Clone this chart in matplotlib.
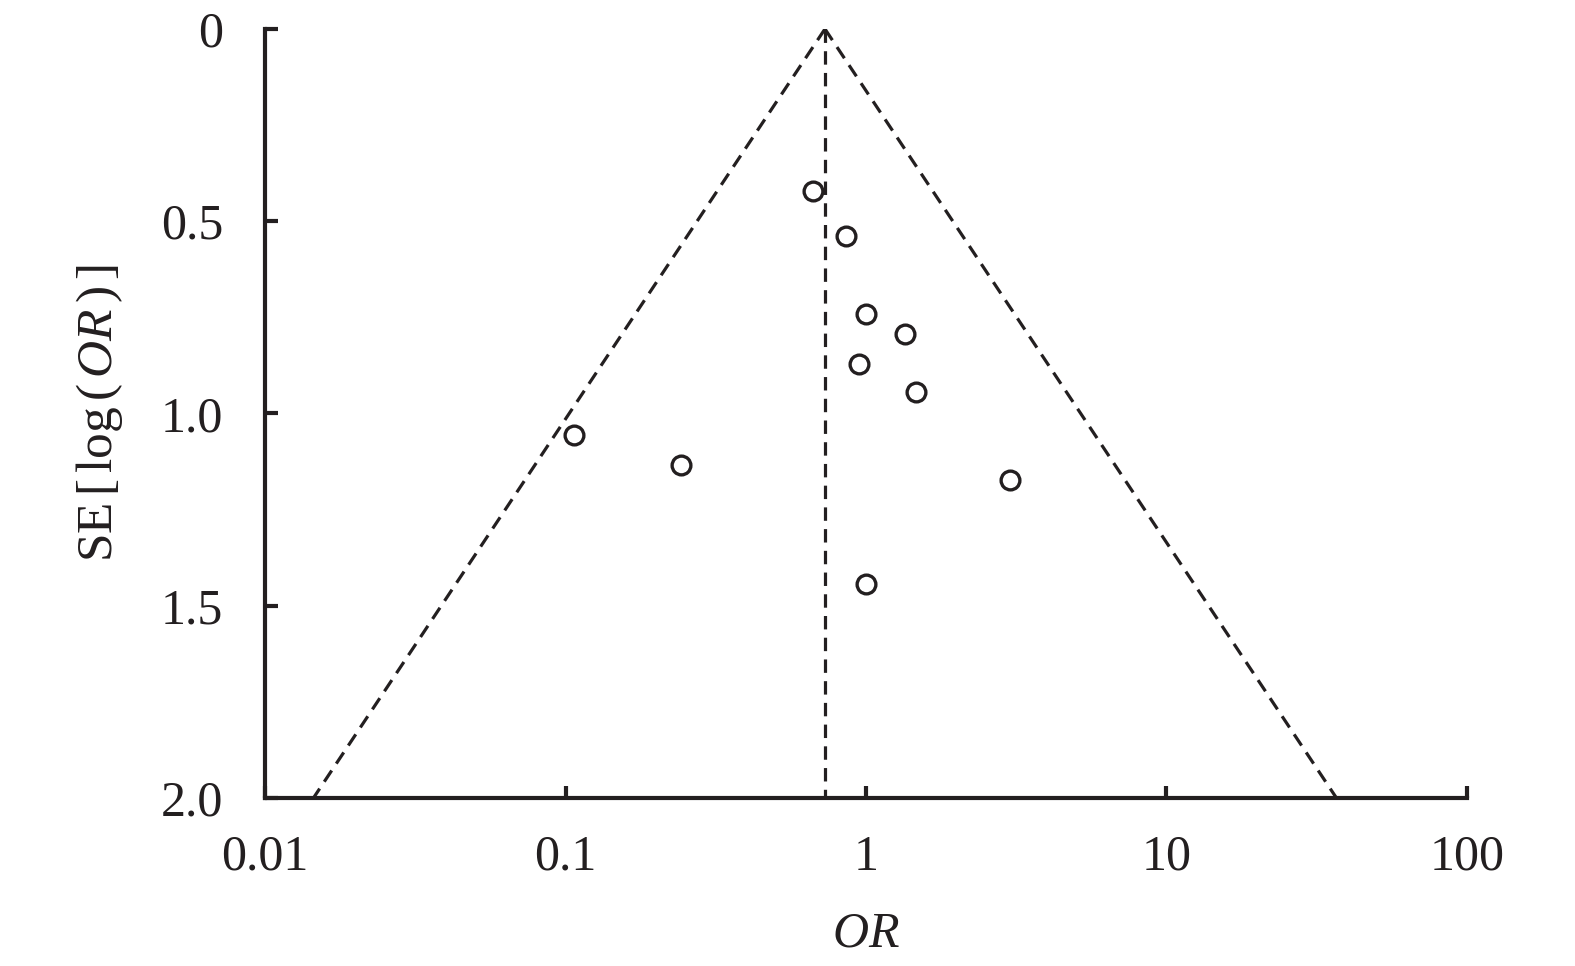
import numpy as np
import matplotlib
matplotlib.use("Agg")
import matplotlib.pyplot as plt

plt.rcParams['font.family'] = ['Liberation Serif', 'DejaVu Serif']
plt.rcParams['mathtext.fontset'] = 'custom'
plt.rcParams['mathtext.rm'] = 'Liberation Serif'
plt.rcParams['mathtext.it'] = 'Liberation Serif:italic'

# Study estimates
odds_ratios = [0.667, 0.858, 1.00, 1.35, 0.948, 1.47, 0.107, 0.242, 3.01, 1.00]
std_errors = [0.422, 0.539, 0.740, 0.792, 0.870, 0.943, 1.057, 1.133, 1.172, 1.443]
pooled_or = 0.73
x_ticks = [0.01, 0.1, 1, 10, 100]
x_tick_labels = ['0.01', '0.1', '1', '10', '100']
y_ticks = [0, 0.5, 1.0, 1.5, 2.0]
y_tick_labels = ['0', '0.5', '1.0', '1.5', '2.0']

ink = '#231f20'
fig = plt.figure(figsize=(15.75, 9.66), dpi=100)
ax = fig.add_axes([0.1683, 0.1739, 0.9314 - 0.1683, 0.970 - 0.1739])

se_grid = np.array([0.0, 2.0])
lo = np.exp(np.log(pooled_or) - 1.96 * se_grid)
hi = np.exp(np.log(pooled_or) + 1.96 * se_grid)
dash = (4.2, 2.6)
lw_d = 2.3
ax.plot(lo, se_grid, color=ink, lw=lw_d, dashes=dash)
ax.plot(hi, se_grid, color=ink, lw=lw_d, dashes=dash)
ax.plot([pooled_or, pooled_or], [0, 2.0], color=ink, lw=lw_d, dashes=dash)

ax.plot(odds_ratios, std_errors, 'o', ms=13.5, mfc='white', mec=ink, mew=2.4,
        linestyle='none', clip_on=False, zorder=5)

ax.set_xscale('log')
ax.set_xlim(0.01, 100)
ax.set_ylim(2.0, 0)
ax.set_xticks(x_ticks)
ax.set_xticklabels(x_tick_labels)
ax.minorticks_off()
ax.set_yticks(y_ticks)
ax.set_yticklabels(y_tick_labels)

for s in ['top', 'right']:
    ax.spines[s].set_visible(False)
for s in ['left', 'bottom']:
    ax.spines[s].set_linewidth(3.0)
    ax.spines[s].set_color(ink)
    ax.spines[s].set_capstyle('projecting')

ax.tick_params(axis='both', direction='in', length=9, width=3.0, color=ink,
               labelsize=36, labelcolor=ink)
ax.tick_params(axis='y', pad=30)
ax.tick_params(axis='x', pad=26)

ax.set_xlabel(r'$\mathit{OR}$', fontsize=36, color=ink, labelpad=22)
ax.set_ylabel(r'SE$\,$[$\,$log$\,$($\,\mathit{OR}\,$)$\,$]', fontsize=37, color=ink, labelpad=26)

fig.savefig('out.png', dpi=100, facecolor='white')
